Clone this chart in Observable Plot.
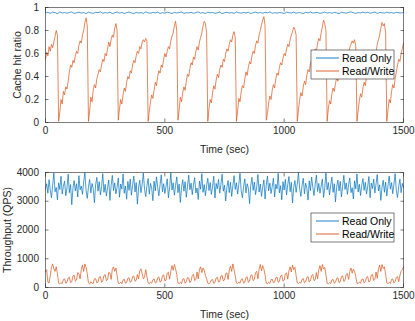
<!DOCTYPE html>
<html><head><meta charset="utf-8">
<script src="https://cdn.jsdelivr.net/npm/d3@7"></script>
<script src="https://cdn.jsdelivr.net/npm/@observablehq/plot@0.6"></script>
<style>
body{margin:0;background:#fff;}
#chart{width:415px;height:321px;}
#chart svg{display:block;}
</style></head><body><div id="chart"></div>
<script>
const seriesNames = ["Read Only", "Read/Write"];
const xTicks = [0, 500, 1000, 1500];
const hitTicks = [0, 0.2, 0.4, 0.6, 0.8, 1];
const qpsTicks = [0, 1000, 2000, 3000, 4000];
const hitStepSec = 10;   // Read Only hit ratio sampled every 10 s
const stepSec = 5;       // other series sampled every 5 s

const hitReadOnly = [
0.953,0.958,0.949,0.960,0.955,0.947,0.961,0.952,0.957,0.950,
0.956,0.962,0.948,0.954,0.959,0.951,0.957,0.946,0.960,0.953,
0.949,0.958,0.955,0.963,0.950,0.956,0.952,0.959,0.947,0.954,
0.961,0.951,0.957,0.948,0.955,0.960,0.953,0.946,0.958,0.952,
0.956,0.949,0.962,0.954,0.950,0.957,0.953,0.959,0.948,0.955,
0.951,0.960,0.954,0.947,0.958,0.952,0.956,0.961,0.949,0.955,
0.953,0.958,0.950,0.956,0.962,0.951,0.955,0.948,0.959,0.954,
0.957,0.950,0.953,0.960,0.946,0.955,0.958,0.952,0.956,0.949,
0.961,0.954,0.951,0.957,0.953,0.959,0.947,0.955,0.960,0.952,
0.956,0.950,0.958,0.954,0.962,0.949,0.955,0.951,0.957,0.953,
0.948,0.959,0.955,0.952,0.960,0.950,0.956,0.954,0.947,0.958,
0.953,0.961,0.951,0.955,0.957,0.949,0.954,0.960,0.952,0.956,
0.950,0.958,0.953,0.946,0.959,0.955,0.951,0.957,0.962,0.954,
0.949,0.956,0.952,0.960,0.953,0.958,0.950,0.955,0.961,0.948,
0.957,0.954,0.951,0.959,0.953,0.956,0.950,0.958,0.955,0.952,
0.957];

const hitReadWrite = [
0.55,0.61,0.58,0.66,0.62,0.68,0.65,0.70,0.75,0.80,0.76,
0.01,
0.09,0.20,0.16,0.27,0.24,0.31,0.29,0.36,0.44,0.50,0.48,0.54,0.52,0.58,0.62,0.60,0.67,0.71,0.69,0.76,0.80,0.87,0.91,0.84,
0.01,
0.10,0.22,0.18,0.28,0.33,0.30,0.38,0.42,0.46,0.44,0.50,0.55,0.53,0.60,0.58,0.64,0.70,0.66,0.72,0.76,0.74,0.82,0.86,0.80,
0.02,
0.12,0.20,0.16,0.24,0.30,0.27,0.35,0.40,0.38,0.45,0.43,0.50,0.54,0.52,0.58,0.62,0.60,0.66,0.64,0.70,0.72,0.70,0.73,0.71,
0.01,
0.10,0.18,0.24,0.21,0.28,0.35,0.32,0.40,0.45,0.43,0.50,0.48,0.55,0.60,0.57,0.62,0.66,0.64,0.71,0.75,0.78,0.84,0.88,0.80,
0.02,
0.11,0.22,0.18,0.26,0.31,0.28,0.36,0.42,0.40,0.47,0.52,0.50,0.57,0.55,0.62,0.66,0.63,0.70,0.74,0.78,0.84,0.88,0.86,0.78,
0.01,
0.12,0.20,0.17,0.26,0.32,0.29,0.37,0.42,0.39,0.46,0.50,0.48,0.55,0.53,0.60,0.64,0.62,0.68,0.72,0.70,0.76,0.79,0.74,
0.01,
0.10,0.21,0.18,0.27,0.32,0.30,0.38,0.44,0.41,0.48,0.53,0.51,0.58,0.62,0.60,0.67,0.71,0.69,0.76,0.80,0.85,0.89,0.92,0.84,
0.02,
0.08,0.17,0.23,0.20,0.28,0.33,0.30,0.38,0.43,0.41,0.48,0.52,0.50,0.56,0.60,0.58,0.64,0.68,0.66,0.72,0.76,0.79,0.83,0.81,0.76,
0.01,
0.11,0.20,0.26,0.23,0.31,0.36,0.33,0.41,0.46,0.44,0.51,0.55,0.53,0.60,0.64,0.62,0.69,0.73,0.71,0.78,0.83,0.89,0.86,0.80,
0.01,
0.12,0.19,0.16,0.25,0.30,0.27,0.34,0.39,0.36,0.43,0.47,0.45,0.51,0.55,0.53,0.59,0.62,0.60,0.65,0.68,0.71,0.69,0.72,0.66,
0.01,
0.10,0.19,0.25,0.22,0.30,0.35,0.32,0.40,0.45,0.43,0.50,0.54,0.52,0.58,0.63,0.61,0.68,0.72,0.76,0.82,0.87,0.84,0.86,0.78,
0.01,
0.11,0.20,0.17,0.27,0.33,0.30,0.38,0.44,0.50,0.55,0.53,0.60,0.64,0.69];

const qpsReadOnly = [
3420,3610,3280,3750,3390,3120,3560,3980,3330,3480,
3050,3640,3410,3870,3250,3520,3700,3190,3460,3940,
3300,3580,2880,3450,3720,3360,3610,3150,3890,3400,
3530,3240,3670,3990,3380,3100,3500,3760,3290,3620,
3440,2950,3570,3830,3350,3680,3220,3510,3960,3310,
3590,3180,3470,3740,3030,3550,3900,3370,3640,3260,
3490,3810,3140,3600,3420,3950,3280,3530,3070,3690,
3380,3770,3210,3560,3880,3320,3650,2900,3470,3730,
3300,3590,3980,3410,3160,3540,3790,3250,3620,3440,
3020,3700,3360,3850,3480,3190,3570,3920,3330,3610,
3270,3520,3780,3120,3460,3990,3390,3640,3210,3550,
3850,3300,3600,2960,3480,3750,3350,3680,3140,3510,
3910,3400,3630,3230,3570,3820,3290,3460,3060,3700,
3420,3960,3310,3580,3190,3540,3800,3370,3650,3240,
3500,3870,3110,3620,3430,3760,3280,3590,3940,3350,
3560,3010,3480,3720,3300,3660,3170,3530,3890,3410,
3640,3250,3590,3970,3360,3120,3510,3780,3290,3610,
3450,2920,3560,3830,3380,3670,3230,3500,3930,3320,
3600,3170,3490,3740,3080,3560,3880,3360,3630,3270,
3510,3800,3150,3590,3430,3970,3290,3540,3050,3680,
3390,3760,3220,3570,3860,3330,3660,2940,3480,3720,
3310,3600,3990,3420,3170,3550,3800,3260,3630,3450,
3040,3710,3370,3840,3490,3200,3580,3910,3340,3620,
3280,3530,3770,3130,3470,3980,3400,3650,3220,3560,
3840,3310,3610,2980,3490,3740,3360,3690,3150,3520,
3900,3410,3640,3240,3580,3810,3300,3470,3080,3710,
3430,3950,3320,3590,3200,3550,3790,3380,3660,3250,
3510,3860,3120,3630,3440,3770,3290,3600,3930,3360,
3570,3030,3490,3730,3310,3670,3180,3540,3880,3420,
3650,3260,3600,3960,3370,3130,3520,3770,3300,3620,
3480];

const qpsReadWrite = [
550,620,180,160,420,700,820,650,560,720,480,
150,
130,170,140,280,300,150,180,330,360,170,200,400,430,220,260,520,480,300,620,780,560,820,700,480,
160,
120,200,150,140,300,310,160,190,360,380,180,230,420,450,240,270,520,500,280,640,720,560,680,420,
150,
140,180,130,260,290,150,170,320,340,180,210,380,400,220,250,450,300,580,650,480,300,360,620,380,
160,
130,190,150,270,300,160,180,340,370,190,220,410,440,230,260,500,530,290,560,760,600,800,650,450,
150,
140,180,130,290,310,150,200,350,330,170,230,420,460,240,280,540,300,620,720,520,680,600,420,300,
150,
130,170,260,280,140,180,330,360,190,210,400,420,230,260,480,510,280,600,740,560,820,620,400,
160,
140,190,150,280,300,150,190,350,370,180,220,420,440,240,280,520,560,300,640,800,580,760,640,440,
150,
130,180,140,270,290,160,190,340,360,180,210,400,430,220,260,480,510,290,580,720,540,780,620,700,420,
160,
140,180,150,290,310,160,200,350,380,190,230,420,450,240,270,520,300,620,760,560,800,640,700,450,
150,
130,170,140,260,280,150,180,320,340,170,200,380,400,210,250,460,480,280,560,680,500,640,560,380,
150,
140,190,150,280,300,160,200,360,380,190,230,430,460,240,280,540,320,640,780,560,800,660,720,460,
160,
130,180,140,280,300,160,200,350,380,200,420,560,620,720];

const BLUE = "#0072BD", RED = "#D95319", AX = "#262626";
const FONT = "'Liberation Sans', Arial, Helvetica, sans-serif";
const toRows = (vals, step) => vals.map((v, i) => ({t: i * step, v}));
const plain = d => String(d);

function panel({height, mt, mb, yDomain, yTicks, yLabel, yLabelOffset, xLabelOffset, lines, legendY}) {
  const svg = Plot.plot({
    width: 415, height,
    marginLeft: 45, marginRight: 12, marginTop: mt, marginBottom: mb,
    style: {fontFamily: FONT, fontSize: "10px", color: AX, background: "white", overflow: "visible"},
    x: {domain: [0, 1500]},
    y: {domain: yDomain},
    marks: [
      ...lines.map(l => Plot.line(l.rows, {x: "t", y: "v", stroke: l.color, strokeWidth: 0.7})),
      Plot.frame({stroke: AX, strokeWidth: 0.6}),
      Plot.axisX({anchor: "bottom", ticks: xTicks, tickFormat: plain, tickSize: -3.5, tickPadding: 8, strokeWidth: 0.6,
        label: "Time (sec)", labelAnchor: "center", labelArrow: "none", labelOffset: xLabelOffset}),
      Plot.axisX({anchor: "top", ticks: xTicks, tickSize: -3.5, tickFormat: () => "", strokeWidth: 0.6, label: null}),
      Plot.axisY({anchor: "left", ticks: yTicks, tickFormat: plain, tickSize: -3.5, tickPadding: 10, strokeWidth: 0.6,
        label: yLabel, labelAnchor: "center", labelArrow: "none", labelOffset: yLabelOffset}),
      Plot.axisY({anchor: "right", ticks: yTicks, tickSize: -3.5, tickFormat: () => "", strokeWidth: 0.6, label: null})
    ]
  });
  d3.select(svg).selectAll('[aria-label="x-axis label"] text, [aria-label="y-axis label"] text')
    .attr("font-size", "10.5px");
  // legend box (MATLAB style)
  const g = d3.select(svg).append("g").attr("font-family", FONT).attr("font-size", "10.5px")
    .attr("text-anchor", "start");
  g.append("rect").attr("x", 311).attr("y", legendY).attr("width", 83).attr("height", 29)
    .attr("fill", "white").attr("stroke", AX).attr("stroke-width", 0.6);
  lines.forEach((l, i) => {
    const cy = legendY + 8 + i * 13;
    g.append("line").attr("x1", 316).attr("x2", 339).attr("y1", cy).attr("y2", cy)
      .attr("stroke", l.color).attr("stroke-width", 0.9);
    g.append("text").attr("x", 342).attr("y", cy).attr("dy", "0.35em").attr("fill", "#000").text(l.name);
  });
  return svg;
}

const topPanel = panel({
  height: 160, mt: 7, mb: 38, yDomain: [0, 1], yTicks: hitTicks, yLabel: "Cache hit ratio",
  yLabelOffset: 32, xLabelOffset: 30, legendY: 50,
  lines: [
    {name: seriesNames[0], color: BLUE, rows: toRows(hitReadOnly, hitStepSec)},
    {name: seriesNames[1], color: RED, rows: toRows(hitReadWrite, stepSec)}
  ]
});
const bottomPanel = panel({
  height: 161, mt: 12, mb: 34, yDomain: [0, 4000], yTicks: qpsTicks, yLabel: "Throughput (QPS)",
  yLabelOffset: 42, xLabelOffset: 30, legendY: 53,
  lines: [
    {name: seriesNames[0], color: BLUE, rows: toRows(qpsReadOnly, stepSec)},
    {name: seriesNames[1], color: RED, rows: toRows(qpsReadWrite, stepSec)}
  ]
});
document.getElementById("chart").append(topPanel, bottomPanel);
</script></body></html>
